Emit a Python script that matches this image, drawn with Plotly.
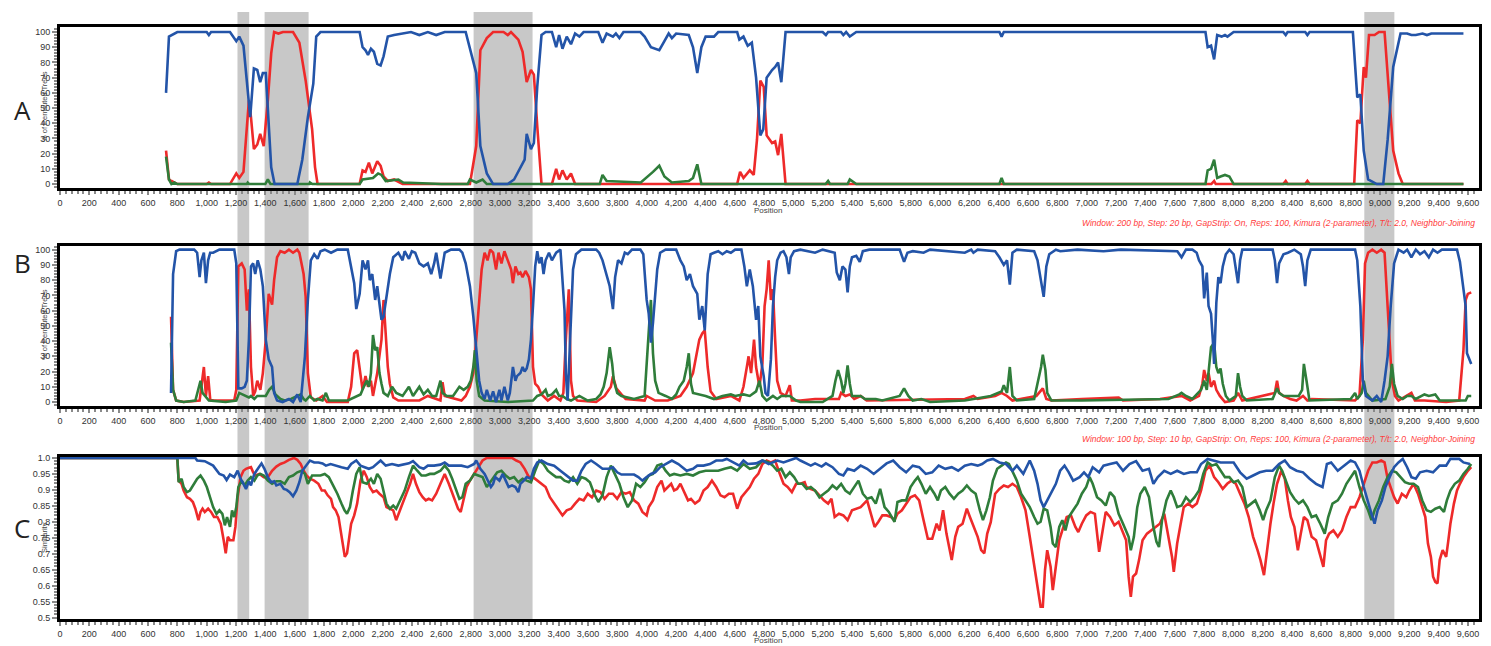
import plotly.graph_objects as go

W, H = 1491, 646

# ---------------- data: (position bp, value) ----------------
A_blue = [(723,60),(743,97),(800,100),(1000,100),(1015,98),(1030,100),(1159,100),(1202,94),(1222,97),(1251,91),(1297,44),(1322,76),(1345,75),(1365,67),(1383,73),(1403,73),(1440,11),(1463,0),(1618,0),(1652,16),(1690,44),(1727,66),(1747,97),(1776,100),(2043,100),(2063,90),(2083,88),(2100,85),(2120,89),(2140,87),(2163,79),(2186,78),(2206,84),(2235,97),(2278,98),(2336,99),(2393,100),(2450,98),(2508,100),(2565,98),(2623,100),(2766,100),(2838,73),(2866,25),(2910,7),(2953,0),(3053,0),(3096,3),(3139,11),(3168,16),(3182,33),(3211,23),(3231,27),(3254,64),(3283,98),(3311,100),(3354,100),(3383,90),(3403,98),(3426,89),(3455,97),(3484,92),(3512,99),(3541,97),(3570,100),(3670,100),(3699,93),(3727,99),(3770,97),(3790,99),(3814,96),(3842,100),(3957,100),(3986,97),(4029,90),(4086,88),(4121,94),(4150,99),(4172,96),(4201,99),(4287,98),(4316,90),(4345,73),(4373,90),(4402,97),(4459,97),(4488,100),(4617,100),(4632,95),(4660,97),(4689,91),(4717,93),(4746,70),(4775,32),(4795,36),(4818,70),(4855,75),(4876,77),(4896,80),(4918,67),(4947,100),(5200,100),(5222,98),(5237,100),(5325,100),(5341,98),(5360,100),(5385,97),(5429,100),(6405,100),(6420,97),(6435,100),(7810,100),(7825,90),(7848,91),(7869,82),(7890,98),(7920,97),(7943,98),(7960,97),(8002,100),(8340,100),(8357,98),(8370,100),(8490,100),(8505,98),(8520,100),(8815,100),(8845,57),(8866,59),(8889,22),(8919,3),(8978,0),(9022,0),(9052,29),(9090,77),(9140,99),(9185,99),(9214,98),(9244,98),(9290,99),(9320,98),(9350,99),(9569,99)]
A_red = [(723,22),(743,3),(760,2),(800,0),(1000,0),(1015,1),(1030,0),(1159,0),(1202,7),(1222,4),(1251,8),(1288,55),(1302,44),(1322,23),(1345,26),(1365,33),(1389,25),(1417,55),(1440,86),(1460,100),(1489,99),(1520,100),(1589,100),(1632,93),(1675,68),(1719,36),(1739,11),(1756,0),(2043,0),(2063,9),(2083,8),(2106,14),(2129,7),(2163,15),(2186,12),(2206,5),(2235,2),(2278,3),(2336,0),(2795,0),(2838,25),(2866,88),(2910,96),(2953,100),(3024,100),(3053,98),(3075,100),(3125,95),(3154,87),(3182,67),(3211,75),(3231,72),(3254,38),(3283,0),(3354,0),(3383,10),(3403,3),(3426,9),(3455,3),(3484,7),(3512,0),(4617,0),(4637,8),(4660,4),(4703,9),(4730,6),(4752,29),(4775,68),(4798,64),(4818,32),(4855,27),(4876,28),(4896,19),(4918,33),(4947,0),(7850,0),(7869,2),(7880,0),(8340,0),(8357,2),(8370,0),(8490,0),(8505,2),(8520,0),(8824,0),(8845,42),(8866,40),(8889,77),(8904,70),(8925,98),(8963,98),(8993,100),(9031,100),(9061,57),(9090,22),(9126,7),(9155,0),(9569,0)]
A_green = [(723,18),(743,3),(760,0),(780,1),(800,0),(1274,0),(1280,1),(1290,0),(1400,0),(1417,3),(1435,0),(1700,0),(1704,1),(1720,0),(2043,0),(2063,3),(2134,4),(2169,7),(2192,6),(2221,2),(2307,3),(2340,1),(2600,0),(2780,0),(2795,3),(2838,1),(2881,3),(2910,0),(3680,0),(3699,6),(3727,2),(3960,1),(4043,8),(4086,12),(4121,5),(4172,1),(4287,2),(4316,4),(4345,13),(4373,0),(5220,0),(5237,2),(5250,0),(5370,0),(5385,3),(5429,0),(6405,0),(6420,4),(6435,0),(7810,0),(7825,9),(7848,10),(7869,16),(7890,4),(7913,5),(7943,6),(7973,5),(8002,0),(9569,0)]

B_blue = [(757,6),(771,84),(792,99),(815,100),(915,100),(935,98),(952,82),(964,93),(981,98),(995,78),(1010,93),(1024,98),(1044,98),(1087,100),(1188,100),(1202,91),(1216,9),(1239,9),(1259,10),(1274,14),(1288,41),(1302,89),(1317,91),(1331,84),(1348,93),(1366,87),(1383,76),(1403,41),(1423,28),(1446,23),(1460,6),(1480,1),(1518,0),(1561,2),(1589,0),(1618,5),(1641,0),(1670,30),(1690,67),(1710,93),(1733,97),(1756,94),(1776,99),(1805,100),(1848,98),(1891,100),(1962,100),(1985,89),(2006,78),(2020,61),(2043,71),(2063,93),(2083,87),(2100,93),(2112,80),(2129,84),(2149,67),(2163,76),(2178,63),(2192,54),(2206,56),(2221,66),(2235,76),(2249,84),(2272,95),(2307,98),(2336,93),(2350,99),(2379,94),(2399,99),(2422,98),(2450,91),(2479,89),(2508,91),(2531,84),(2551,91),(2565,98),(2594,81),(2623,98),(2666,100),(2723,100),(2743,98),(2766,91),(2795,76),(2818,56),(2838,32),(2858,14),(2875,6),(2895,2),(2910,8),(2933,1),(2953,7),(2973,0),(2996,8),(3010,1),(3030,10),(3053,1),(3067,6),(3088,23),(3105,14),(3116,17),(3139,19),(3154,23),(3168,20),(3182,22),(3197,28),(3211,41),(3225,63),(3240,89),(3254,99),(3268,91),(3283,95),(3297,84),(3311,93),(3334,98),(3354,93),(3383,98),(3412,100),(3426,80),(3440,60),(3449,19),(3461,1),(3478,41),(3489,74),(3498,87),(3518,97),(3555,100),(3656,100),(3676,98),(3699,93),(3727,84),(3748,76),(3770,61),(3785,82),(3805,93),(3828,91),(3851,98),(3871,97),(3900,100),(3957,100),(3977,97),(4000,67),(4014,58),(4029,39),(4043,52),(4058,71),(4072,87),(4092,98),(4129,100),(4201,100),(4230,93),(4253,89),(4273,80),(4295,84),(4316,76),(4345,71),(4359,54),(4379,63),(4396,47),(4416,84),(4436,97),(4459,98),(4488,99),(4517,97),(4546,99),(4574,98),(4603,100),(4646,100),(4666,89),(4683,76),(4703,87),(4724,76),(4746,54),(4761,63),(4775,30),(4798,17),(4810,6),(4827,4),(4847,28),(4861,63),(4876,82),(4890,93),(4913,98),(4933,99),(4953,95),(4970,84),(4982,95),(5005,99),(5048,100),(5148,98),(5200,100),(5282,98),(5296,85),(5317,80),(5335,89),(5355,87),(5370,72),(5385,89),(5400,95),(5429,96),(5453,92),(5474,99),(5518,100),(5725,100),(5755,92),(5778,98),(5814,99),(5888,98),(5932,100),(6169,98),(6213,100),(6228,98),(6257,100),(6376,99),(6405,95),(6435,90),(6457,93),(6476,77),(6494,98),(6524,100),(6642,99),(6665,93),(6689,78),(6707,69),(6725,89),(6745,97),(6790,100),(6820,99),(6937,100),(7115,99),(7233,100),(7618,99),(7647,95),(7677,100),(7721,100),(7750,98),(7766,93),(7789,89),(7801,68),(7819,85),(7831,63),(7848,58),(7860,41),(7869,25),(7884,65),(7898,82),(7913,78),(7928,89),(7949,97),(7973,100),(8002,97),(8032,78),(8046,93),(8061,100),(8268,100),(8283,93),(8298,78),(8312,91),(8342,97),(8372,98),(8416,100),(8460,97),(8475,89),(8490,76),(8505,93),(8528,100),(8830,100),(8845,93),(8866,63),(8883,14),(8904,4),(8948,1),(8978,4),(9008,0),(9031,14),(9052,30),(9073,63),(9096,91),(9126,100),(9161,98),(9185,100),(9214,95),(9244,100),(9273,97),(9303,99),(9333,95),(9362,100),(9392,98),(9422,100),(9525,100),(9545,92),(9563,78),(9584,63),(9593,32),(9622,25)]
B_red = [(757,56),(771,8),(792,1),(843,0),(952,1),(981,23),(995,4),(1010,17),(1024,2),(1044,1),(1188,1),(1202,8),(1216,89),(1239,91),(1259,87),(1274,60),(1288,74),(1302,23),(1317,4),(1331,7),(1345,14),(1366,8),(1383,19),(1403,41),(1423,71),(1446,64),(1460,80),(1480,95),(1503,99),(1532,98),(1561,100),(1589,98),(1618,100),(1632,98),(1661,84),(1675,69),(1690,19),(1710,3),(1747,1),(1790,4),(1820,0),(1962,0),(1985,10),(2006,32),(2026,34),(2043,23),(2063,8),(2083,17),(2100,10),(2120,14),(2134,4),(2163,19),(2178,30),(2192,41),(2206,67),(2221,41),(2235,23),(2249,12),(2272,3),(2307,1),(2450,1),(2508,4),(2594,1),(2608,13),(2623,4),(2737,1),(2766,4),(2795,10),(2818,19),(2838,41),(2858,63),(2875,87),(2895,98),(2915,93),(2933,100),(2953,98),(2973,87),(2990,98),(3010,91),(3030,99),(3053,93),(3076,87),(3088,78),(3105,89),(3125,84),(3139,85),(3154,82),(3174,86),(3197,82),(3211,74),(3225,23),(3240,12),(3260,10),(3283,5),(3326,1),(3369,4),(3412,1),(3432,6),(3449,41),(3469,74),(3484,14),(3498,4),(3527,1),(3656,0),(3713,4),(3756,10),(3770,17),(3793,9),(3828,5),(3857,2),(3986,1),(4000,4),(4058,1),(4144,1),(4230,4),(4273,10),(4316,19),(4339,32),(4359,41),(4379,45),(4396,47),(4416,23),(4436,7),(4474,2),(4574,4),(4632,1),(4660,10),(4683,23),(4695,30),(4712,19),(4732,41),(4746,23),(4769,10),(4789,25),(4804,63),(4818,74),(4832,93),(4847,67),(4861,74),(4876,41),(4890,14),(4913,6),(4947,4),(4976,11),(4990,1),(5048,1),(5148,2),(5311,2),(5326,6),(5355,4),(5385,5),(5415,2),(5459,4),(5500,1),(6169,2),(6228,4),(6257,2),(6376,4),(6420,6),(6457,4),(6494,1),(6657,4),(6701,9),(6725,2),(6760,1),(6967,2),(7218,3),(7248,1),(7500,2),(7647,4),(7706,1),(7766,4),(7789,12),(7801,21),(7819,14),(7831,19),(7848,10),(7869,14),(7884,8),(7908,4),(7943,0),(8002,1),(8032,6),(8061,1),(8283,6),(8298,14),(8312,6),(8342,4),(8387,2),(8431,1),(8475,4),(8505,1),(8534,2),(8830,1),(8860,4),(8883,41),(8898,91),(8919,98),(8948,100),(8978,98),(9008,100),(9031,98),(9052,63),(9066,41),(9081,14),(9102,4),(9126,1),(9214,6),(9238,1),(9303,1),(9451,0),(9540,1),(9554,19),(9569,34),(9584,67),(9599,71),(9622,72)]
B_green = [(757,39),(771,8),(792,1),(843,0),(923,1),(944,10),(958,14),(972,6),(992,4),(1015,1),(1130,0),(1202,1),(1222,6),(1245,5),(1268,4),(1288,3),(1302,4),(1325,2),(1345,4),(1374,4),(1403,4),(1426,8),(1446,10),(1469,5),(1503,2),(1532,1),(1575,2),(1618,4),(1641,5),(1661,2),(1675,1),(1704,4),(1733,1),(1756,2),(1790,1),(1813,6),(1833,1),(1962,1),(1985,2),(2020,4),(2049,5),(2071,10),(2092,14),(2106,10),(2120,19),(2134,44),(2149,34),(2163,36),(2178,19),(2192,12),(2206,6),(2235,4),(2264,10),(2293,6),(2336,4),(2379,10),(2407,4),(2450,10),(2479,5),(2508,8),(2537,4),(2565,4),(2594,14),(2608,6),(2637,4),(2680,4),(2723,10),(2752,8),(2780,10),(2801,14),(2818,23),(2829,34),(2841,14),(2858,4),(2895,1),(3053,0),(3225,1),(3254,4),(3283,5),(3311,8),(3326,4),(3354,5),(3383,8),(3403,4),(3426,4),(3455,2),(3484,1),(3541,4),(3598,1),(3656,2),(3685,5),(3707,10),(3727,19),(3748,36),(3765,25),(3776,14),(3799,6),(3828,4),(3914,2),(3986,4),(4006,30),(4018,52),(4029,67),(4043,32),(4058,14),(4081,6),(4129,4),(4172,2),(4201,5),(4224,10),(4253,14),(4273,23),(4287,32),(4302,12),(4316,6),(4359,5),(4402,4),(4459,2),(4517,4),(4574,5),(4603,4),(4660,5),(4703,4),(4746,7),(4769,14),(4789,4),(4818,1),(4861,4),(4890,2),(4918,4),(4976,4),(5019,1),(5048,0),(5200,0),(5267,4),(5287,14),(5305,21),(5326,14),(5341,6),(5355,12),(5370,24),(5385,12),(5400,4),(5459,4),(5488,2),(5562,2),(5607,1),(5725,4),(5755,9),(5784,4),(5814,1),(5873,2),(5932,0),(6169,1),(6346,4),(6420,7),(6435,11),(6457,6),(6476,23),(6494,4),(6524,1),(6642,2),(6671,14),(6689,23),(6701,31),(6719,21),(6731,6),(6760,1),(6967,1),(7381,2),(7558,2),(7632,5),(7647,6),(7677,4),(7721,2),(7760,6),(7780,8),(7801,14),(7819,8),(7848,36),(7869,39),(7884,23),(7898,19),(7913,22),(7928,12),(7949,4),(7973,1),(8017,4),(8032,19),(8046,10),(8061,4),(8091,1),(8268,2),(8298,9),(8312,6),(8342,4),(8446,4),(8469,8),(8481,25),(8499,14),(8519,1),(8800,2),(8830,6),(8845,2),(8875,6),(8889,14),(8904,6),(8948,1),(9037,2),(9066,10),(9081,25),(9096,12),(9120,4),(9155,2),(9185,4),(9214,4),(9244,2),(9303,5),(9333,4),(9377,5),(9407,1),(9466,1),(9584,1),(9599,4),(9622,4)]

C_blue = [(0,1.0),(923,1.0),(935,0.992),(987,0.99),(1044,0.976),(1087,0.95),(1116,0.945),(1136,0.931),(1159,0.948),(1188,0.94),(1211,0.96),(1231,0.935),(1251,0.919),(1268,0.903),(1288,0.927),(1302,0.914),(1325,0.95),(1354,0.971),(1374,0.983),(1394,0.966),(1417,0.94),(1440,0.924),(1460,0.927),(1475,0.914),(1503,0.919),(1526,0.903),(1546,0.9),(1566,0.893),(1589,0.88),(1612,0.898),(1632,0.924),(1652,0.96),(1675,0.976),(1704,0.992),(1733,0.986),(1762,0.986),(1790,0.983),(1813,0.976),(1845,0.981),(1876,0.976),(1919,0.971),(1962,0.966),(1985,0.981),(2020,0.992),(2049,0.976),(2077,0.971),(2106,0.966),(2134,0.971),(2158,0.981),(2186,0.992),(2221,0.976),(2264,0.981),(2307,0.976),(2350,0.981),(2379,0.983),(2407,0.99),(2450,0.971),(2479,0.966),(2508,0.976),(2551,0.976),(2594,0.979),(2623,0.986),(2651,0.976),(2680,0.976),(2737,0.976),(2780,0.971),(2824,0.981),(2838,0.992),(2866,0.966),(2895,0.95),(2924,0.919),(2938,0.909),(2953,0.919),(2967,0.94),(2996,0.929),(3019,0.95),(3039,0.929),(3059,0.909),(3082,0.914),(3105,0.909),(3125,0.893),(3139,0.919),(3162,0.929),(3182,0.94),(3211,0.935),(3231,0.966),(3254,0.986),(3283,0.992),(3326,0.981),(3369,0.976),(3412,0.96),(3455,0.945),(3498,0.929),(3527,0.929),(3555,0.96),(3584,0.981),(3621,0.992),(3656,0.981),(3699,0.966),(3742,0.966),(3770,0.971),(3799,0.955),(3828,0.948),(3871,0.948),(3914,0.948),(3943,0.94),(3971,0.929),(4000,0.94),(4029,0.95),(4058,0.955),(4092,0.971),(4129,0.981),(4172,0.992),(4216,0.981),(4244,0.971),(4273,0.96),(4316,0.966),(4345,0.976),(4388,0.976),(4431,0.981),(4474,0.992),(4517,0.992),(4546,0.997),(4589,0.986),(4632,0.976),(4660,0.992),(4689,0.981),(4746,0.983),(4789,0.992),(4832,0.981),(4890,0.992),(4933,0.986),(4976,0.992),(5019,1.0),(5048,0.992),(5091,0.981),(5119,0.976),(5148,0.983),(5193,0.973),(5222,0.983),(5267,0.971),(5311,0.95),(5341,0.945),(5370,0.966),(5415,0.96),(5459,0.976),(5503,0.966),(5548,0.95),(5592,0.966),(5636,0.983),(5681,0.992),(5725,0.971),(5769,0.955),(5814,0.976),(5858,0.971),(5903,0.95),(5947,0.955),(5991,0.976),(6036,0.966),(6080,0.971),(6124,0.96),(6169,0.976),(6213,0.981),(6257,0.976),(6287,0.981),(6322,0.992),(6361,0.997),(6405,0.986),(6450,0.981),(6494,0.96),(6524,0.976),(6568,0.95),(6612,0.992),(6642,0.96),(6665,0.919),(6686,0.867),(6707,0.846),(6731,0.867),(6760,0.888),(6790,0.919),(6819,0.96),(6849,0.976),(6878,0.955),(6908,0.929),(6952,0.94),(6982,0.955),(7011,0.94),(7041,0.971),(7085,0.955),(7115,0.976),(7159,0.981),(7204,0.986),(7248,0.96),(7292,0.981),(7337,0.99),(7381,0.96),(7425,0.966),(7455,0.919),(7485,0.94),(7529,0.96),(7573,0.95),(7617,0.96),(7662,0.95),(7706,0.955),(7751,0.955),(7780,0.981),(7825,0.997),(7869,0.992),(7913,0.986),(7958,0.986),(8002,0.986),(8046,0.955),(8091,0.935),(8135,0.945),(8180,0.955),(8224,0.96),(8268,0.96),(8312,0.981),(8351,0.992),(8387,0.971),(8431,0.96),(8475,0.955),(8520,0.935),(8564,0.919),(8608,0.909),(8638,0.981),(8667,0.986),(8712,0.96),(8756,0.976),(8800,0.992),(8830,0.986),(8860,0.96),(8889,0.909),(8919,0.857),(8942,0.825),(8963,0.794),(8984,0.836),(9013,0.867),(9037,0.909),(9066,0.94),(9096,0.971),(9126,0.986),(9155,0.997),(9185,0.971),(9214,0.94),(9244,0.935),(9273,0.955),(9318,0.96),(9362,0.955),(9407,0.976),(9451,0.976),(9480,0.997),(9540,0.997),(9569,0.986),(9613,0.981)]
C_red = [(0,1.0),(800,1.0),(809,0.929),(829,0.919),(843,0.898),(866,0.877),(886,0.872),(906,0.862),(923,0.841),(944,0.805),(958,0.831),(972,0.841),(987,0.831),(1010,0.841),(1030,0.831),(1050,0.815),(1073,0.815),(1096,0.794),(1116,0.742),(1130,0.701),(1144,0.753),(1159,0.742),(1182,0.742),(1196,0.784),(1211,0.877),(1231,0.94),(1251,0.96),(1268,0.966),(1288,0.969),(1302,0.971),(1317,0.955),(1331,0.945),(1360,0.95),(1389,0.94),(1417,0.94),(1446,0.96),(1475,0.973),(1503,0.981),(1532,0.986),(1561,0.994),(1595,1.0),(1618,0.994),(1641,0.981),(1661,0.96),(1681,0.945),(1704,0.935),(1733,0.929),(1762,0.919),(1785,0.898),(1805,0.898),(1825,0.883),(1848,0.872),(1862,0.846),(1880,0.836),(1899,0.815),(1914,0.773),(1928,0.721),(1942,0.69),(1957,0.701),(1971,0.753),(1985,0.794),(2006,0.82),(2026,0.857),(2049,0.929),(2071,0.96),(2092,0.94),(2112,0.909),(2134,0.893),(2158,0.898),(2178,0.888),(2206,0.877),(2226,0.846),(2249,0.841),(2272,0.836),(2292,0.805),(2313,0.831),(2336,0.857),(2364,0.888),(2387,0.919),(2407,0.95),(2427,0.919),(2450,0.893),(2473,0.877),(2494,0.867),(2514,0.872),(2537,0.867),(2565,0.888),(2594,0.919),(2623,0.95),(2651,0.919),(2674,0.888),(2694,0.867),(2714,0.841),(2732,0.831),(2752,0.867),(2772,0.909),(2795,0.929),(2824,0.95),(2852,0.971),(2881,0.992),(2910,1.0),(3082,1.0),(3111,0.992),(3139,0.986),(3168,0.966),(3197,0.94),(3225,0.94),(3254,0.929),(3283,0.919),(3311,0.909),(3340,0.877),(3369,0.857),(3398,0.836),(3426,0.82),(3455,0.836),(3484,0.841),(3512,0.857),(3541,0.872),(3570,0.867),(3598,0.888),(3627,0.877),(3656,0.898),(3685,0.893),(3713,0.872),(3742,0.888),(3770,0.888),(3799,0.872),(3828,0.893),(3857,0.888),(3885,0.893),(3914,0.867),(3943,0.857),(3971,0.831),(4000,0.82),(4014,0.846),(4043,0.867),(4072,0.909),(4101,0.929),(4121,0.898),(4144,0.909),(4167,0.919),(4187,0.898),(4207,0.903),(4230,0.919),(4259,0.888),(4282,0.867),(4302,0.872),(4330,0.857),(4359,0.867),(4388,0.898),(4416,0.909),(4445,0.929),(4474,0.909),(4503,0.883),(4531,0.877),(4560,0.888),(4589,0.888),(4617,0.841),(4646,0.877),(4675,0.893),(4703,0.909),(4732,0.935),(4761,0.95),(4789,0.981),(4818,0.992),(4847,0.986),(4876,0.992),(4904,0.955),(4933,0.919),(4961,0.909),(4990,0.893),(5019,0.919),(5048,0.919),(5077,0.924),(5089,0.909),(5119,0.903),(5148,0.898),(5178,0.883),(5208,0.867),(5237,0.857),(5260,0.872),(5282,0.815),(5311,0.825),(5341,0.82),(5370,0.805),(5400,0.836),(5429,0.841),(5459,0.846),(5503,0.867),(5533,0.815),(5554,0.784),(5580,0.8),(5607,0.82),(5636,0.82),(5666,0.815),(5690,0.805),(5710,0.825),(5740,0.836),(5769,0.857),(5799,0.877),(5829,0.883),(5858,0.867),(5888,0.805),(5917,0.747),(5947,0.747),(5977,0.794),(5997,0.773),(6021,0.836),(6044,0.763),(6065,0.711),(6080,0.68),(6104,0.753),(6124,0.784),(6154,0.794),(6183,0.841),(6204,0.815),(6228,0.784),(6257,0.753),(6281,0.711),(6302,0.701),(6322,0.763),(6346,0.799),(6376,0.888),(6405,0.903),(6435,0.914),(6464,0.909),(6494,0.919),(6524,0.909),(6553,0.877),(6583,0.836),(6612,0.753),(6636,0.68),(6657,0.628),(6671,0.576),(6686,0.534),(6701,0.534),(6716,0.649),(6731,0.711),(6754,0.659),(6769,0.586),(6790,0.669),(6813,0.742),(6834,0.773),(6864,0.815),(6893,0.82),(6923,0.784),(6943,0.768),(6967,0.794),(6997,0.82),(7026,0.831),(7056,0.825),(7085,0.706),(7109,0.773),(7130,0.831),(7159,0.815),(7189,0.789),(7218,0.8),(7248,0.763),(7269,0.742),(7286,0.628),(7301,0.565),(7316,0.628),(7337,0.638),(7357,0.68),(7381,0.742),(7411,0.763),(7440,0.773),(7470,0.784),(7499,0.794),(7529,0.825),(7558,0.753),(7582,0.69),(7594,0.643),(7617,0.732),(7641,0.794),(7662,0.846),(7692,0.857),(7721,0.846),(7751,0.857),(7780,0.898),(7810,0.96),(7839,0.976),(7869,0.94),(7898,0.924),(7928,0.903),(7958,0.919),(7987,0.929),(8017,0.919),(8046,0.888),(8076,0.857),(8105,0.815),(8135,0.753),(8165,0.711),(8185,0.68),(8209,0.633),(8233,0.732),(8253,0.794),(8274,0.857),(8298,0.919),(8327,0.96),(8351,0.935),(8372,0.867),(8392,0.815),(8416,0.784),(8440,0.711),(8460,0.763),(8481,0.815),(8505,0.805),(8534,0.753),(8564,0.742),(8593,0.69),(8614,0.659),(8632,0.742),(8653,0.763),(8682,0.773),(8712,0.753),(8741,0.773),(8771,0.815),(8800,0.846),(8830,0.846),(8860,0.877),(8889,0.919),(8919,0.96),(8948,0.986),(8978,0.986),(9008,0.992),(9031,0.986),(9052,0.935),(9073,0.909),(9096,0.877),(9120,0.857),(9149,0.888),(9179,0.877),(9200,0.898),(9229,0.919),(9259,0.888),(9288,0.846),(9309,0.815),(9327,0.732),(9347,0.69),(9362,0.628),(9377,0.612),(9392,0.607),(9407,0.68),(9427,0.711),(9451,0.69),(9466,0.742),(9480,0.794),(9504,0.857),(9525,0.898),(9545,0.919),(9569,0.94),(9599,0.96),(9622,0.971)]
C_green = [(0,1.0),(800,1.0),(809,0.924),(829,0.935),(843,0.909),(866,0.893),(886,0.898),(915,0.919),(935,0.935),(958,0.945),(981,0.929),(1001,0.909),(1021,0.877),(1044,0.846),(1067,0.825),(1087,0.836),(1107,0.825),(1124,0.789),(1139,0.815),(1159,0.784),(1173,0.836),(1188,0.815),(1202,0.846),(1216,0.909),(1239,0.929),(1259,0.914),(1280,0.929),(1302,0.94),(1325,0.929),(1345,0.945),(1366,0.95),(1389,0.945),(1417,0.929),(1446,0.919),(1475,0.927),(1503,0.927),(1532,0.919),(1561,0.94),(1589,0.945),(1618,0.955),(1647,0.96),(1670,0.95),(1690,0.919),(1719,0.945),(1747,0.945),(1776,0.945),(1805,0.95),(1833,0.94),(1862,0.914),(1891,0.888),(1919,0.857),(1940,0.836),(1957,0.825),(1977,0.846),(1997,0.898),(2020,0.95),(2043,0.971),(2063,0.924),(2092,0.919),(2120,0.935),(2140,0.919),(2163,0.95),(2186,0.935),(2206,0.898),(2226,0.857),(2249,0.841),(2272,0.851),(2292,0.841),(2321,0.867),(2350,0.898),(2379,0.94),(2407,0.976),(2436,0.96),(2465,0.945),(2494,0.945),(2522,0.95),(2551,0.95),(2594,0.96),(2623,0.976),(2651,0.96),(2674,0.935),(2703,0.898),(2723,0.872),(2743,0.877),(2766,0.919),(2795,0.929),(2824,0.95),(2852,0.945),(2881,0.94),(2910,0.909),(2933,0.924),(2953,0.94),(2981,0.955),(3010,0.96),(3039,0.945),(3067,0.935),(3096,0.94),(3125,0.924),(3154,0.935),(3182,0.929),(3211,0.924),(3240,0.96),(3268,0.992),(3297,0.981),(3326,0.96),(3354,0.95),(3383,0.94),(3412,0.94),(3440,0.929),(3469,0.924),(3498,0.94),(3527,0.919),(3555,0.94),(3584,0.935),(3613,0.924),(3642,0.888),(3670,0.862),(3699,0.883),(3727,0.94),(3756,0.976),(3785,0.945),(3814,0.919),(3842,0.877),(3871,0.846),(3900,0.867),(3928,0.919),(3957,0.909),(3986,0.924),(4014,0.945),(4043,0.95),(4072,0.976),(4101,0.981),(4129,0.96),(4158,0.945),(4187,0.95),(4230,0.945),(4273,0.95),(4316,0.945),(4359,0.955),(4402,0.96),(4445,0.96),(4488,0.96),(4531,0.966),(4574,0.971),(4617,0.96),(4660,0.981),(4703,0.966),(4746,0.971),(4789,0.992),(4832,0.986),(4861,0.976),(4890,0.96),(4918,0.966),(4947,0.94),(4976,0.955),(5005,0.94),(5033,0.919),(5062,0.919),(5091,0.903),(5119,0.909),(5148,0.898),(5178,0.877),(5208,0.888),(5237,0.898),(5267,0.914),(5296,0.903),(5326,0.919),(5355,0.898),(5385,0.888),(5415,0.909),(5444,0.929),(5474,0.888),(5503,0.872),(5533,0.877),(5562,0.857),(5592,0.903),(5622,0.846),(5651,0.831),(5672,0.815),(5690,0.8),(5710,0.862),(5740,0.867),(5769,0.867),(5799,0.909),(5829,0.929),(5849,0.94),(5873,0.919),(5903,0.888),(5932,0.909),(5962,0.888),(5985,0.867),(6006,0.898),(6036,0.909),(6065,0.888),(6095,0.872),(6124,0.888),(6154,0.898),(6183,0.914),(6213,0.898),(6243,0.888),(6272,0.836),(6293,0.805),(6316,0.836),(6340,0.877),(6361,0.929),(6390,0.966),(6420,0.976),(6450,0.986),(6470,0.981),(6494,0.96),(6524,0.929),(6553,0.888),(6583,0.867),(6612,0.846),(6642,0.815),(6665,0.794),(6686,0.8),(6707,0.841),(6731,0.836),(6754,0.784),(6769,0.732),(6790,0.721),(6813,0.784),(6834,0.805),(6855,0.773),(6878,0.815),(6908,0.836),(6938,0.857),(6967,0.888),(6997,0.909),(7020,0.94),(7041,0.919),(7071,0.877),(7100,0.867),(7130,0.851),(7159,0.893),(7189,0.877),(7218,0.825),(7248,0.794),(7269,0.773),(7286,0.753),(7301,0.711),(7322,0.753),(7345,0.846),(7366,0.888),(7396,0.909),(7425,0.877),(7455,0.784),(7476,0.737),(7493,0.721),(7514,0.805),(7544,0.867),(7573,0.898),(7594,0.877),(7617,0.846),(7647,0.851),(7677,0.877),(7706,0.862),(7736,0.877),(7766,0.898),(7795,0.95),(7825,0.986),(7854,0.976),(7884,0.981),(7913,0.96),(7943,0.94),(7973,0.94),(8002,0.924),(8032,0.929),(8061,0.909),(8091,0.846),(8120,0.857),(8150,0.867),(8180,0.836),(8203,0.805),(8224,0.836),(8253,0.867),(8283,0.94),(8312,0.976),(8333,0.96),(8357,0.929),(8387,0.893),(8416,0.872),(8446,0.857),(8475,0.867),(8505,0.846),(8534,0.815),(8564,0.82),(8593,0.794),(8623,0.763),(8647,0.815),(8676,0.857),(8712,0.867),(8741,0.888),(8771,0.919),(8800,0.94),(8830,0.96),(8860,0.909),(8889,0.867),(8919,0.836),(8942,0.805),(8963,0.836),(8993,0.867),(9022,0.909),(9052,0.94),(9081,0.96),(9111,0.955),(9140,0.94),(9170,0.924),(9200,0.919),(9229,0.919),(9259,0.909),(9288,0.867),(9318,0.836),(9347,0.831),(9377,0.841),(9407,0.846),(9436,0.831),(9456,0.867),(9480,0.898),(9510,0.919),(9540,0.929),(9569,0.95),(9599,0.966),(9622,0.981)]

# shaded recombination regions (bp)
shade_regions = [(1210, 1290), (1395, 1695), (2820, 3222), (8893, 9098)]

C_tickvals = [0.5, 0.55, 0.6, 0.65, 0.7, 0.75, 0.8, 0.85, 0.9, 0.95, 1.0]
C_ticktext = ["0.5", "0.55", "0.6", "0.65", "0.7", "0.75", "0.8", "0.85", "0.9", "0.95", "1.0"]

note_A = "Window: 200 bp, Step: 20 bp, GapStrip: On, Reps: 100, Kimura (2-parameter), T/t: 2.0, Neighbor-Joining"
note_B = "Window: 100 bp, Step: 10 bp, GapStrip: On, Reps: 100, Kimura (2-parameter), T/t: 2.0, Neighbor-Joining"

# ---------------- styling ----------------
BLUE = "#2354a8"
RED = "#ee2a2a"
GREEN = "#2f7d3a"
LW = 2.6
FONT = "Liberation Sans"

def py(p):
    return 1 - p / H

X_DOM = [60 / W, 1479 / W]
panels = [
    ("", 27, 188, [-2.6, 103.3], A_red, A_green, A_blue),
    ("2", 245.7, 405.7, [-2.4, 102.6], B_red, B_green, B_blue),
    ("3", 457, 619, [0.4955, 1.003], C_red, C_green, C_blue),
]

fig = go.Figure()
for suf, top, bot, yr, r, g, b in panels:
    for series, col in ((r, RED), (g, GREEN), (b, BLUE)):
        fig.add_trace(go.Scatter(
            x=[p[0] for p in series], y=[p[1] for p in series],
            mode="lines", line=dict(color=col, width=LW),
            xaxis="x" + suf, yaxis="y" + suf, showlegend=False, hoverinfo="skip"))

axis_common = dict(showline=True, linecolor="black", linewidth=3, mirror=True,
                   showgrid=False, zeroline=False, automargin=False,
                   ticks="outside", ticklen=4, tickwidth=2, tickcolor="#8a8a8a",
                   tickfont=dict(family=FONT, size=9, color="#333333"))
layout = dict(template="none", width=W, height=H, margin=dict(l=0, r=0, t=0, b=0, pad=0),
              paper_bgcolor="white", plot_bgcolor="rgba(0,0,0,0)",
              showlegend=False)
for suf, top, bot, yr, *_rest in panels:
    layout["xaxis" + suf] = dict(axis_common, domain=X_DOM, range=[0, 9675],
                                 anchor="y" + suf, dtick=200, tick0=0, tickformat=",d",
                                 minor=dict(dtick=40, ticks="outside", ticklen=3,
                                            tickwidth=2, tickcolor="#8a8a8a"))
    ydict = dict(axis_common, domain=[py(bot), py(top)], range=yr, anchor="x" + suf,
                 ticklen=5)
    if suf == "3":
        ydict.update(tickvals=C_tickvals, ticktext=C_ticktext,
                     minor=dict(dtick=0.01, ticks="outside", ticklen=3, tickwidth=2,
                                tickcolor="#8a8a8a"))
    else:
        ydict.update(dtick=10, tick0=0,
                     minor=dict(dtick=2, ticks="outside", ticklen=3, tickwidth=2,
                                tickcolor="#8a8a8a"))
    layout["yaxis" + suf] = ydict
fig.update_layout(**layout)

for x0, x1 in shade_regions:
    fig.add_shape(type="rect", xref="x", yref="paper", x0=x0, x1=x1,
                  y0=py(621), y1=py(12), fillcolor="#c8c8c8", line_width=0, layer="below")

annots = []
for letter, ypx in (("A", 110), ("B", 263), ("C", 528)):
    annots.append(dict(text=letter, x=22 / W, y=py(ypx), xref="paper", yref="paper",
                       showarrow=False, xanchor="center", yanchor="middle",
                       font=dict(family="Open Sans", size=26, color="#222222")))
for title, ymid in (("% of Permuted Trees", 107), ("% of Permuted Trees", 325), ("Similarity", 538)):
    annots.append(dict(text=title, x=44 / W, y=py(ymid), xref="paper", yref="paper",
                       showarrow=False, textangle=-90, xanchor="center", yanchor="middle",
                       font=dict(family=FONT, size=7.5, color="#444444")))
for ypx in (210, 427, 640):
    annots.append(dict(text="Position", x=768 / W, y=py(ypx), xref="paper", yref="paper",
                       showarrow=False, xanchor="center", yanchor="middle",
                       font=dict(family=FONT, size=8, color="#444444")))
for note, ypx in ((note_A, 223), (note_B, 439)):
    annots.append(dict(text="<i>" + note + "</i>", x=1477 / W, y=py(ypx), xref="paper", yref="paper",
                       showarrow=False, xanchor="right", yanchor="middle",
                       font=dict(family=FONT, size=8.5, color="#ff3c3c")))
fig.update_layout(annotations=annots)

fig.write_html("out.html", config={"displayModeBar": False},
               post_script="document.body.style.margin='0';document.body.style.padding='0';document.body.style.overflow='hidden';")
